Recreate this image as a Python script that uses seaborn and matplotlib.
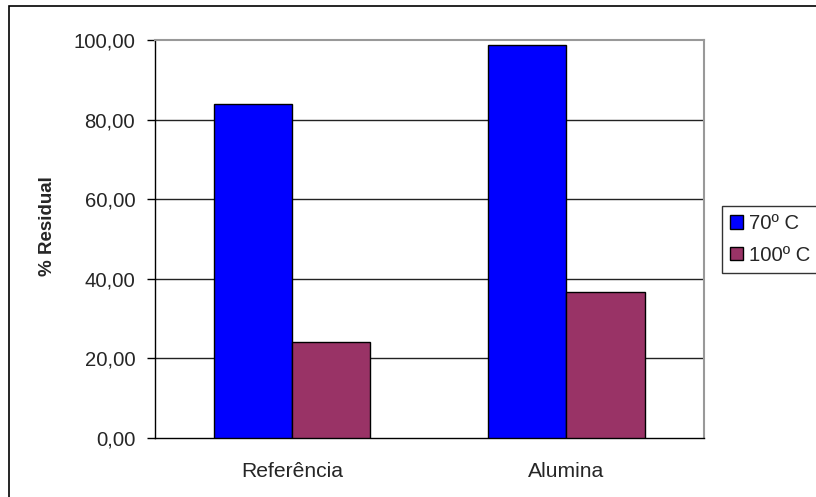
import matplotlib
matplotlib.use("Agg")
import matplotlib.pyplot as plt
import seaborn as sns
import pandas as pd
from matplotlib.patches import Rectangle, Patch

categories = ["Referência", "Alumina"]
series_names = ["70º C", "100º C"]
values_70 = [84.0, 98.7]
values_100 = [24.2, 36.6]
y_ticks = [0, 20, 40, 60, 80, 100]
y_tick_labels = ["0,00", "20,00", "40,00", "60,00", "80,00", "100,00"]
colors = {"70º C": "#0000FF", "100º C": "#993366"}

df = pd.DataFrame({
    "cat": categories * 2,
    "serie": [series_names[0]] * 2 + [series_names[1]] * 2,
    "val": values_70 + values_100,
})

sns.set_style("white")
plt.rcParams["font.family"] = ["Liberation Sans", "DejaVu Sans"]

fig = plt.figure(figsize=(8.16, 4.97), dpi=100)
ax = fig.add_axes([154.6 / 816, 59 / 497, (703.6 - 154.6) / 816, 398 / 497])

sns.barplot(data=df, x="cat", y="val", hue="serie", order=categories,
            hue_order=series_names, palette=colors, width=0.57, gap=0,
            edgecolor="black", linewidth=1.0, saturation=1, ax=ax,
            legend=False, zorder=3)

ax.set_xlim(-0.5, 1.5)
ax.set_ylim(0, 100)
ax.set_yticks(y_ticks)
ax.set_yticklabels(y_tick_labels, fontsize=14.6)
ax.set_xticks([0, 1])
ax.set_xticklabels(categories, fontsize=15.2)
ax.tick_params(axis="x", length=0, pad=17)
ax.set_xticks([-0.5, 0.5, 1.5], minor=True)
ax.tick_params(axis="x", which="minor", length=6, width=1, color="#555555", direction="out")
ax.tick_params(axis="y", length=6, width=1, color="black", direction="out", pad=8, left=True)
ax.set_xlabel("")
ax.set_ylabel("% Residual", fontsize=13.5, fontweight="bold")
ax.yaxis.set_label_coords((56 - 154.6) / 549, (438 - 226.5) / 398)

for y in y_ticks[1:-1]:
    ax.axhline(y, color="#222222", linewidth=1.0, zorder=1)

for side in ["left", "bottom"]:
    ax.spines[side].set_color("black")
    ax.spines[side].set_linewidth(1.0)
for side in ["top", "right"]:
    ax.spines[side].set_visible(True)
    ax.spines[side].set_color("#999999")
    ax.spines[side].set_linewidth(1.5)

handles = [Patch(facecolor=colors[s], edgecolor="black", linewidth=1.0) for s in series_names]
leg = fig.legend(handles, series_names, loc="upper left",
                 bbox_to_anchor=(722 / 816, 1 - 206 / 497),
                 frameon=True, fancybox=False, edgecolor="black",
                 fontsize=14.6, handlelength=0.64, handleheight=0.64,
                 handletextpad=0.3, borderpad=0.4, labelspacing=0.62,
                 borderaxespad=0)
leg.get_frame().set_linewidth(1.0)

fig.patches.append(Rectangle((8.5 / 816, -0.05), 1.2, (497 - 6) / 497 + 0.05,
                             transform=fig.transFigure, fill=False,
                             edgecolor="black", linewidth=1.2))

fig.savefig("out.png", dpi=100)
